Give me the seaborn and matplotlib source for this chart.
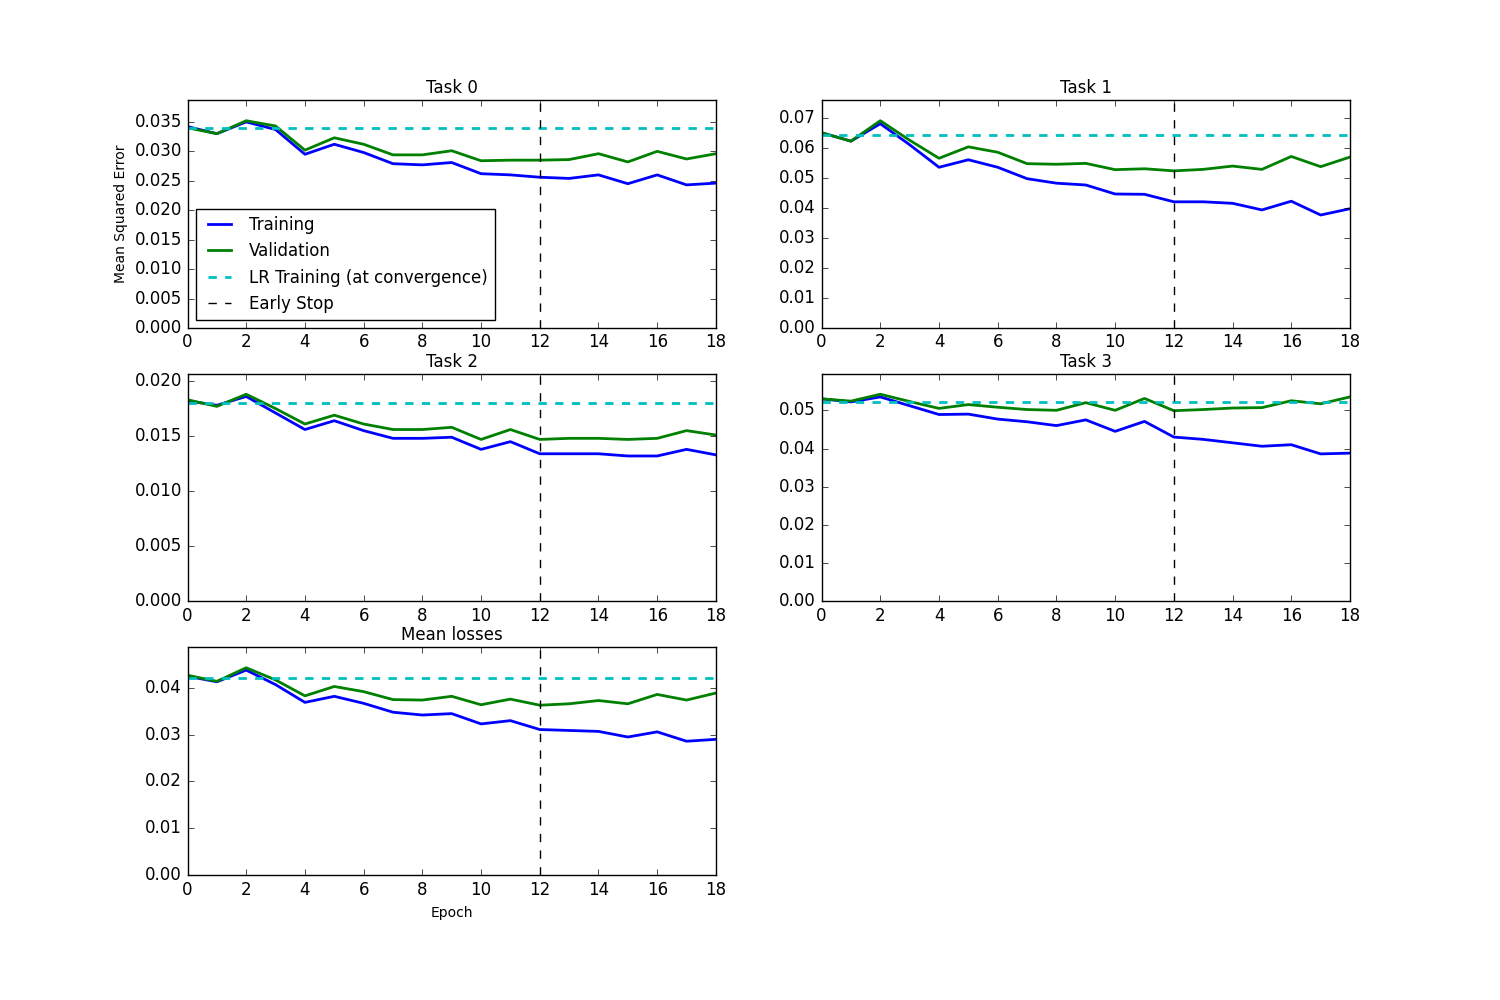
import matplotlib
matplotlib.use("Agg")
import matplotlib.pyplot as plt
import numpy as np
import seaborn as sns

plt.style.use('classic')

epochs = np.arange(19)
titles = ['Task 0', 'Task 1', 'Task 2', 'Task 3', 'Mean losses']

train = [
    [0.0342, 0.0330, 0.0350, 0.0337, 0.0295, 0.0312, 0.0298, 0.0279, 0.0277, 0.0281,
     0.0262, 0.0260, 0.0256, 0.0254, 0.0260, 0.0245, 0.0260, 0.0243, 0.0246],
    [0.0650, 0.0622, 0.0680, 0.0610, 0.0535, 0.0560, 0.0535, 0.0497, 0.0482, 0.0476,
     0.0446, 0.0445, 0.0420, 0.0420, 0.0415, 0.0393, 0.0422, 0.0376, 0.0397],
    [0.0182, 0.0178, 0.0186, 0.0171, 0.0156, 0.0164, 0.0155, 0.0148, 0.0148, 0.0149,
     0.0138, 0.0145, 0.0134, 0.0134, 0.0134, 0.0132, 0.0132, 0.0138, 0.0133],
    [0.0530, 0.0522, 0.0535, 0.0512, 0.0489, 0.0490, 0.0477, 0.0470, 0.0460, 0.0475,
     0.0445, 0.0471, 0.0430, 0.0424, 0.0415, 0.0406, 0.0410, 0.0386, 0.0388],
    [0.0425, 0.0413, 0.0438, 0.0407, 0.0369, 0.0382, 0.0367, 0.0348, 0.0342, 0.0345,
     0.0323, 0.0330, 0.0311, 0.0309, 0.0307, 0.0295, 0.0306, 0.0286, 0.0290],
]
valid = [
    [0.0340, 0.0330, 0.0352, 0.0343, 0.0302, 0.0323, 0.0312, 0.0294, 0.0294, 0.0301,
     0.0284, 0.0285, 0.0285, 0.0286, 0.0296, 0.0282, 0.0300, 0.0287, 0.0296],
    [0.0650, 0.0622, 0.0690, 0.0625, 0.0565, 0.0603, 0.0585, 0.0547, 0.0545, 0.0548,
     0.0527, 0.0530, 0.0523, 0.0528, 0.0539, 0.0528, 0.0571, 0.0537, 0.0569],
    [0.0183, 0.0177, 0.0188, 0.0175, 0.0161, 0.0169, 0.0161, 0.0156, 0.0156, 0.0158,
     0.0147, 0.0156, 0.0147, 0.0148, 0.0148, 0.0147, 0.0148, 0.0155, 0.0151],
    [0.0530, 0.0524, 0.0542, 0.0523, 0.0505, 0.0515, 0.0508, 0.0502, 0.0500, 0.0520,
     0.0500, 0.0531, 0.0499, 0.0502, 0.0506, 0.0507, 0.0525, 0.0517, 0.0535],
    [0.0427, 0.0414, 0.0443, 0.0417, 0.0383, 0.0403, 0.0392, 0.0375, 0.0374, 0.0382,
     0.0364, 0.0376, 0.0363, 0.0366, 0.0373, 0.0366, 0.0386, 0.0374, 0.0389],
]
lr_train = [0.0340, 0.0643, 0.0180, 0.0523, 0.0421]
early_stop = 12

fig, axes = plt.subplots(3, 2, figsize=(15, 10), dpi=100)
fig.subplots_adjust(left=0.125, right=0.9, top=0.9, bottom=0.125, wspace=0.2, hspace=0.2)
axes = axes.flatten()

for i, ax in enumerate(axes[:5]):
    sns.lineplot(x=epochs, y=train[i], ax=ax, color='b', lw=2, label='Training')
    sns.lineplot(x=epochs, y=valid[i], ax=ax, color='g', lw=2, label='Validation')
    ax.axhline(lr_train[i], color='c', ls='--', lw=2, label='LR Training (at convergence)')
    top = 1.1 * max(max(train[i]), max(valid[i]), lr_train[i])
    ax.plot([early_stop, early_stop], [0, top], color='k', ls='--', lw=1, label='Early Stop')
    ax.set_xlim(0, 18)
    ax.set_ylim(0, top)
    ax.set_xticks(range(0, 19, 2))
    ax.set_title(titles[i], fontsize=12)
    if i == 0:
        ax.legend(loc='lower left', fontsize=12)
        ax.set_ylabel('Mean Squared Error', fontsize=10)
    else:
        ax.get_legend().remove()

axes[4].set_xlabel('Epoch', fontsize=10)
axes[5].remove()

fig.savefig('out.png', dpi=100)
